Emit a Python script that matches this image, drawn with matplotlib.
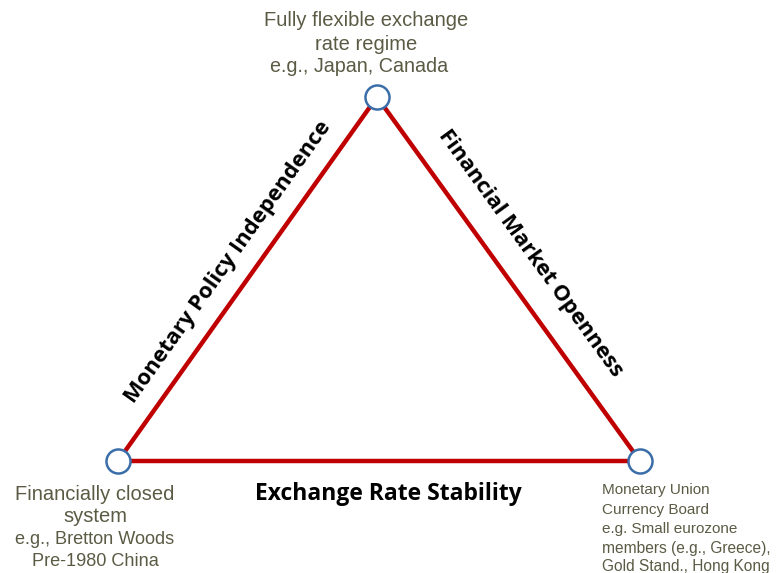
import matplotlib
matplotlib.use("Agg")
import matplotlib.pyplot as plt

# vertices (pixel coordinates of the reference)
vertex_names = ["top", "left", "right"]
vertex_x = [377, 118, 640]
vertex_y = [97, 461, 461]

side_labels = ["Monetary Policy Independence", "Financial Market Openness", "Exchange Rate Stability"]

top_label = ["Fully flexible exchange", "rate regime", "e.g., Japan, Canada"]
left_label = ["Financially closed", "system", "e.g., Bretton Woods", "Pre-1980 China"]
right_label = ["Monetary Union", "Currency Board", "e.g. Small eurozone", "members (e.g., Greece),", "Gold Stand., Hong Kong"]

W, H = 776, 573
fig = plt.figure(figsize=(W / 100, H / 100), dpi=100)
ax = fig.add_axes([0, 0, 1, 1])
ax.set_xlim(0, W)
ax.set_ylim(H, 0)
ax.axis("off")

xs = vertex_x + [vertex_x[0]]
ys = vertex_y + [vertex_y[0]]
ax.plot(xs, ys, color="#c00000", lw=3.2, solid_capstyle="round", zorder=1)
ax.scatter(vertex_x, vertex_y, s=300, facecolor="white", edgecolor="#3b6ea8", linewidths=1.8, zorder=2)

side_font = dict(family="Open Sans", weight="bold", color="black")
ax.text(228, 262, side_labels[0], rotation=54.6, ha="center", va="center", fontsize=15.8, **side_font)
ax.text(530, 253, side_labels[1], rotation=-54.1, ha="center", va="center", fontsize=15.8, **side_font)
ax.text(388, 494, side_labels[2], ha="center", va="center", fontsize=16.5, **side_font)

tc = "#5b5b45"
ax.text(366, 20, top_label[0], ha="center", va="center", fontsize=14.5, family="Liberation Sans", color=tc)
ax.text(366, 44, top_label[1], ha="center", va="center", fontsize=14.5, family="Liberation Sans", color=tc)
ax.text(359, 66, top_label[2], ha="center", va="center", fontsize=14.2, family="Liberation Sans", color=tc)

ly = [494, 517, 540, 562]
lfs = [14.5, 14.5, 13.1, 13.1]
for t, y, f in zip(left_label, ly, lfs):
    ax.text(95, y, t, ha="center", va="center", fontsize=f, family="Liberation Sans", color=tc)

ry = [490, 510, 529, 549, 567]
rfs = [11, 11, 11, 11.2, 11.2]
for t, y, f in zip(right_label, ry, rfs):
    ax.text(602, y, t, ha="left", va="center", fontsize=f, family="Liberation Sans", color=tc)

fig.savefig("out.png", dpi=100, facecolor="white")
